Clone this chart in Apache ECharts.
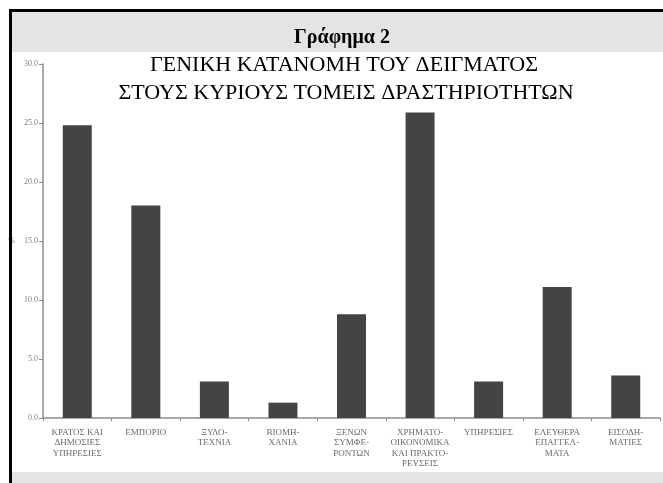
<!DOCTYPE html>
<html>
<head>
<meta charset="utf-8">
<script src="https://cdn.jsdelivr.net/npm/echarts@6/dist/echarts.min.js"></script>
<style>
  html, body { margin: 0; padding: 0; background: #fff; }
  #chart { width: 663px; height: 483px; }
</style>
</head>
<body>
<div id="chart"></div>
<script>
// κατηγορίες (τομείς δραστηριοτήτων)
const sectors = [
  'ΚΡΑΤΟΣ ΚΑΙ\nΔΗΜΟΣΙΕΣ\nΥΠΗΡΕΣΙΕΣ',
  'ΕΜΠΟΡΙΟ',
  'ΞΥΛΟ-\nΤΕΧΝΙΑ',
  'ΒΙΟΜΗ-\nΧΑΝΙΑ',
  'ΞΕΝΩΝ\nΣΥΜΦΕ-\nΡΟΝΤΩΝ',
  'ΧΡΗΜΑΤΟ-\nΟΙΚΟΝΟΜΙΚΑ\nΚΑΙ ΠΡΑΚΤΟ-\nΡΕΥΣΕΙΣ',
  'ΥΠΗΡΕΣΙΕΣ',
  'ΕΛΕΥΘΕΡΑ\nΕΠΑΓΓΕΛ-\nΜΑΤΑ',
  'ΕΙΣΟΔΗ-\nΜΑΤΙΕΣ'
];
// ποσοστά %
const percents = [24.8, 18.0, 3.1, 1.3, 8.8, 25.9, 3.1, 11.1, 3.6];
const yTicks = { min: 0, max: 30, interval: 5 };

const titleText = 'Γράφημα 2';
const subtitleLines = [
  'ΓΕΝΙΚΗ ΚΑΤΑΝΟΜΗ ΤΟΥ ΔΕΙΓΜΑΤΟΣ',
  'ΣΤΟΥΣ ΚΥΡΙΟΥΣ ΤΟΜΕΙΣ ΔΡΑΣΤΗΡΙΟΤΗΤΩΝ'
];

const chart = echarts.init(document.getElementById('chart'));
const serif = '"Liberation Serif", "DejaVu Serif", serif';

const option = {
  animation: false,
  backgroundColor: '#fff',
  graphic: [
    // γκρι ζώνες και μαύρο πλαίσιο
    { type: 'rect', z: -10, shape: { x: 12, y: 12, width: 651, height: 40 }, style: { fill: '#e4e4e4' } },
    { type: 'rect', z: -10, shape: { x: 12, y: 472, width: 651, height: 11 }, style: { fill: '#e4e4e4' } },
    { type: 'rect', z: 10, shape: { x: 9, y: 9, width: 654, height: 3 }, style: { fill: '#000' } },
    { type: 'rect', z: 10, shape: { x: 9, y: 9, width: 3, height: 474 }, style: { fill: '#000' } },
    {
      type: 'text', z: 10, x: 342, y: 38,
      style: { text: titleText, font: 'bold 20px ' + serif, fill: '#000', align: 'center', verticalAlign: 'middle' }
    },
    {
      type: 'text', z: 10, x: 344, y: 65,
      style: { text: subtitleLines[0], font: '22px ' + serif, fill: '#000', align: 'center', verticalAlign: 'middle' }
    },
    {
      type: 'text', z: 10, x: 346, y: 93,
      style: { text: subtitleLines[1], font: '22px ' + serif, fill: '#000', align: 'center', verticalAlign: 'middle' }
    }
  ],
  grid: {
    left: 43,
    right: 3,
    top: 64,
    bottom: 65
  },
  xAxis: {
    type: 'category',
    data: sectors,
    axisLine: { lineStyle: { color: '#8c8c8c', width: 1.5 } },
    axisTick: { show: true, length: 3, lineStyle: { color: '#8c8c8c' } },
    axisLabel: {
      interval: 0,
      margin: 9,
      color: '#6a6a6a',
      fontFamily: serif,
      fontSize: 9,
      lineHeight: 10.5
    }
  },
  yAxis: {
    type: 'value',
    min: yTicks.min,
    max: yTicks.max,
    interval: yTicks.interval,
    name: '%',
    nameLocation: 'middle',
    nameGap: 28,
    nameRotate: 0,
    nameTextStyle: { color: '#888', fontSize: 8, fontFamily: serif },
    axisLine: { show: true, lineStyle: { color: '#8c8c8c', width: 1.5 } },
    axisTick: { show: true, length: 4, lineStyle: { color: '#8c8c8c' } },
    axisLabel: {
      margin: 5,
      color: '#808080',
      fontFamily: serif,
      fontSize: 8,
      formatter: v => v.toFixed(1)
    },
    splitLine: { show: false }
  },
  series: [
    {
      type: 'bar',
      data: percents,
      barWidth: 29,
      itemStyle: { color: '#444' }
    }
  ]
};
chart.setOption(option);
</script>
</body>
</html>
